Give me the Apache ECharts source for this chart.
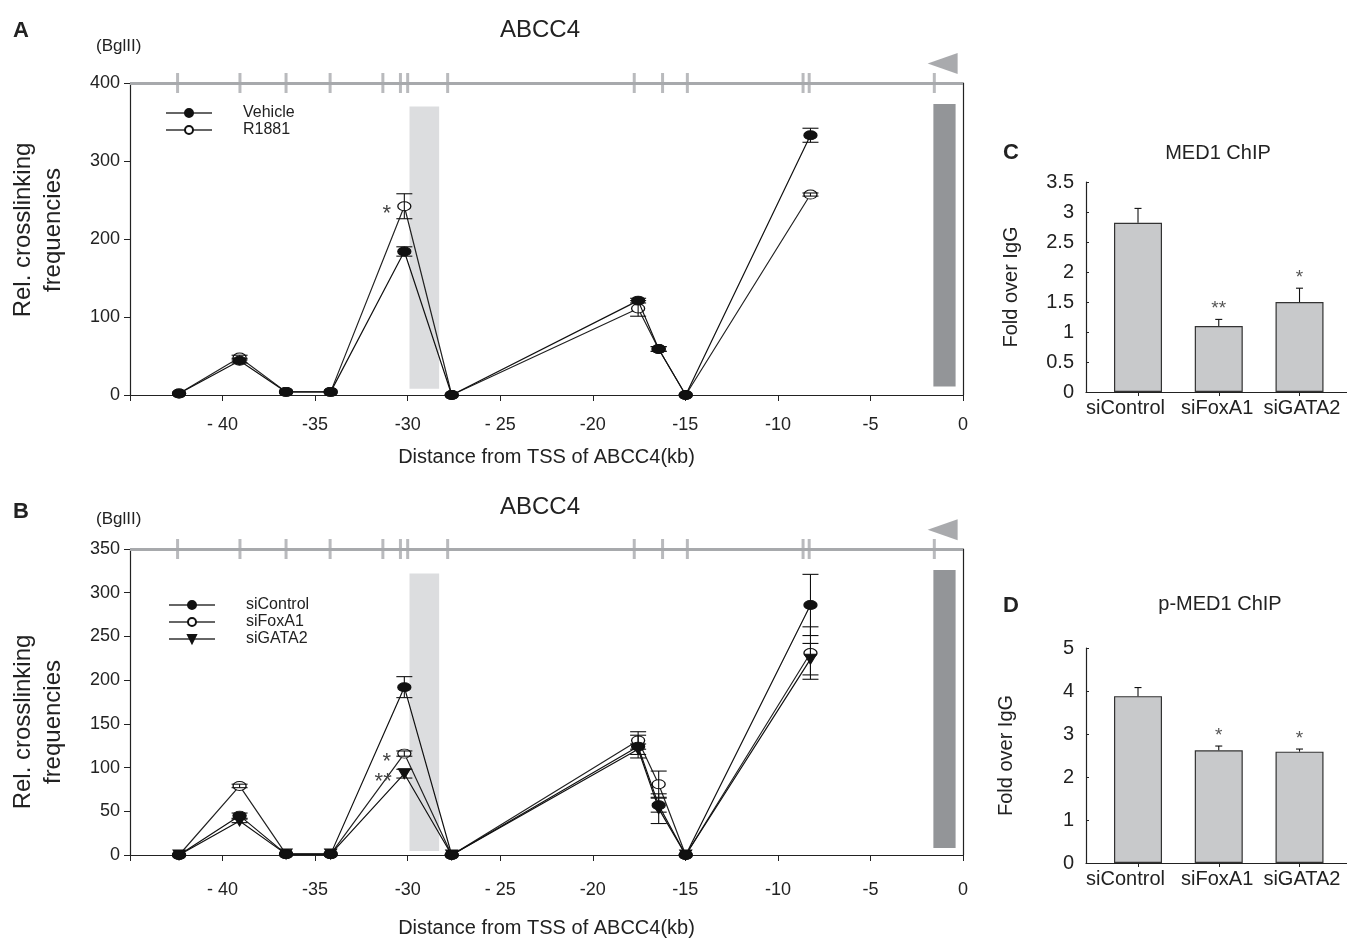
<!DOCTYPE html>
<html>
<head>
<meta charset="utf-8">
<script src="https://cdn.jsdelivr.net/npm/echarts@6/dist/echarts.min.js"></script>
<style>
  html, body { margin: 0; padding: 0; background: #fff; }
  #chart { width: 1347px; height: 939px; }
</style>
</head>
<body>
<div id="chart"></div>
<script>
// distance from TSS (kb) of the 3C fragments
var fragmentKb = [-42.35, -39.08, -36.57, -34.16, -30.18, -27.62, -17.55, -16.44, -14.98, -8.24];
// BglII sites on the map line
var bglSites = [-42.43, -39.06, -36.57, -34.19, -31.34, -30.39, -30.0, -27.84, -17.76, -16.23, -14.89, -8.64, -8.31, -1.55];
var xTicks = [-40, -35, -30, -25, -20, -15, -10, -5, 0];
var xTickLabels = ["- 40", "-35", "-30", "- 25", "-20", "-15", "-10", "-5", "0"];

// panel A
var vehicle = [2, 44, 4, 4, 184, 0, 121, 59, 0, 333];
var vehicleErr = [0, 3, 0, 0, 6, 0, 3, 3, 0, 9];
var r1881 = [2, 48, 4, 4, 242, 0, 111, 59, 0, 257];
var r1881Err = [0, 3, 0, 0, 16, 0, 10, 3, 0, 2];

// panel B
var siControl = [0, 45, 1, 1, 192, 0, 124, 57, 0, 286];
var siControlErr = [0, 3, 0, 0, 12, 0, 13, 8, 0, 35];
var siFoxA1 = [0, 79, 1, 1, 116, 0, 131, 81, 0, 231];
var siFoxA1Err = [0, 2, 0, 0, 3, 0, 10, 15, 0, 30];
var siGATA2 = [0, 39, 1, 1, 93, 0, 121, 53, 0, 224];
var siGATA2Err = [0, 2, 0, 0, 5, 0, 6, 17, 0, 18];

// panels C, D
var barCats = ["siControl", "siFoxA1", "siGATA2"];
var med1 = [2.82, 1.10, 1.50];
var med1Err = [0.24, 0.11, 0.23];
var med1Sig = ["", "**", "*"];
var pmed1 = [3.88, 2.62, 2.59];
var pmed1Err = [0.20, 0.10, 0.06];
var pmed1Sig = ["", "*", "*"];

var FONT = "Liberation Sans, Arial, sans-serif";
var TXT = "#222";

function pairs(xs, ys) {
  return xs.map(function (x, i) { return [x, ys[i]]; });
}
function errData(xs, ys, es) {
  var out = [];
  xs.forEach(function (x, i) {
    if (es[i] > 0) out.push([x, ys[i] - es[i], ys[i] + es[i]]);
  });
  return out;
}

// error bar drawing, capHalf in px
function errRender(capHalf) {
  return function (params, api) {
    var x = api.value(0);
    var lo = api.coord([x, api.value(1)]);
    var hi = api.coord([x, api.value(2)]);
    var st = { stroke: "#111", lineWidth: 1.1 };
    return {
      type: "group",
      children: [
        { type: "line", shape: { x1: hi[0], y1: lo[1], x2: hi[0], y2: hi[1] }, style: st },
        { type: "line", shape: { x1: hi[0] - capHalf, y1: hi[1], x2: hi[0] + capHalf, y2: hi[1] }, style: st },
        { type: "line", shape: { x1: lo[0] - capHalf, y1: lo[1], x2: lo[0] + capHalf, y2: lo[1] }, style: st }
      ]
    };
  };
}

function barErrRender(sigs) {
  return function (params, api) {
    var i = api.value(0);
    var top = api.coord([i, api.value(1)]);
    var hi = api.coord([i, api.value(2)]);
    var st = { stroke: "#111", lineWidth: 1.1 };
    var sig = sigs[params.dataIndex];
    var kids = [
      { type: "line", shape: { x1: top[0], y1: top[1], x2: hi[0], y2: hi[1] }, style: st },
      { type: "line", shape: { x1: hi[0] - 3.5, y1: hi[1], x2: hi[0] + 3.5, y2: hi[1] }, style: st }
    ];
    if (sig) {
      kids.push({
        type: "text",
        style: { text: sig, x: hi[0], y: hi[1] - 1, align: "center", verticalAlign: "bottom",
                 fontSize: 19, fontFamily: FONT, fill: "#555" }
      });
    }
    return { type: "group", children: kids };
  };
}

function lineSeries(name, xi, ys, opts) {
  var s = {
    name: name,
    type: "line",
    xAxisIndex: xi,
    yAxisIndex: xi,
    data: pairs(fragmentKb, ys),
    symbol: opts.symbol || "circle",
    symbolSize: opts.size || [13, 9],
    symbolRotate: opts.rotate || 0,
    showSymbol: true,
    lineStyle: { color: opts.line || "#111", width: 1.2 },
    itemStyle: { color: opts.fill, borderColor: "#111", borderWidth: 1.1 },
    z: opts.z || 3,
    animation: false
  };
  if (opts.sig) {
    s.data = s.data.map(function (d, i) {
      if (!opts.sig[i]) return d;
      return {
        value: d,
        label: { show: true, formatter: opts.sig[i], position: "left", distance: 6,
                 offset: [0, 8], fontSize: 22, fontFamily: FONT, color: "#444" }
      };
    });
  }
  return s;
}

function mapSeries(xi, top, band, dark) {
  return {
    type: "scatter",
    xAxisIndex: xi,
    yAxisIndex: xi,
    data: bglSites.map(function (s) { return [s, top]; }),
    symbol: "rect",
    symbolSize: [3, 20],
    itemStyle: { color: "#a7a9ac" },
    clip: false,
    silent: true,
    z: 10,
    animation: false,
    markLine: {
      silent: true,
      symbol: "none",
      label: { show: false },
      lineStyle: { color: "#a7a9ac", width: 3, type: "solid" },
      data: [{ yAxis: top }]
    },
    markArea: {
      silent: true,
      data: [
        [{ xAxis: band[0], yAxis: band[2], itemStyle: { color: "rgba(208,209,212,0.75)" } },
         { xAxis: band[1], yAxis: band[3] }],
        [{ xAxis: dark[0], yAxis: dark[2], itemStyle: { color: "#939598" } },
         { xAxis: dark[1], yAxis: dark[3] }]
      ]
    }
  };
}

function tssSeries(xi, yv) {
  return {
    type: "scatter",
    xAxisIndex: xi,
    yAxisIndex: xi,
    data: [[-1.1, yv]],
    symbol: "triangle",
    symbolSize: [21, 30],
    symbolRotate: 90,
    itemStyle: { color: "#939598" },
    clip: false,
    silent: true,
    z: 10,
    animation: false
  };
}

function kbAxis(gi, labelGap, nameGap) {
  return {
    type: "value",
    gridIndex: gi,
    min: -45,
    max: 0,
    interval: 5,
    axisLine: { onZero: false, lineStyle: { color: "#222", width: 1.2 } },
    axisTick: { length: 6, lineStyle: { color: "#222" } },
    splitLine: { show: false },
    axisLabel: {
      margin: labelGap,
      fontSize: 18,
      fontFamily: FONT,
      color: TXT,
      formatter: function (v) {
        var k = xTicks.indexOf(v);
        return k >= 0 ? xTickLabels[k] : "";
      }
    },
    name: "Distance from TSS of ABCC4(kb)",
    nameLocation: "middle",
    nameGap: nameGap,
    nameTextStyle: { fontSize: 20, fontFamily: FONT, color: TXT }
  };
}

function freqAxis(gi, max, step, pad) {
  return {
    type: "value",
    gridIndex: gi,
    min: 0,
    max: max,
    interval: step,
    axisLine: { show: true, onZero: false, lineStyle: { color: "#222", width: 1.2 } },
    axisTick: { show: true, length: 6, lineStyle: { color: "#222" } },
    splitLine: { show: false },
    axisLabel: { fontSize: 18, fontFamily: FONT, color: TXT, margin: 10 },
    name: "Rel. crosslinking\nfrequencies",
    nameLocation: "middle",
    nameGap: 62,
    nameRotate: 90,
    nameTextStyle: { fontSize: 24, lineHeight: 30, fontFamily: FONT, color: TXT, padding: pad }
  };
}

function borderAxis(gi, max) {
  return {
    type: "value",
    gridIndex: gi,
    position: "right",
    min: 0,
    max: max,
    axisLine: { show: true, onZero: false, lineStyle: { color: "#222", width: 1.2 } },
    axisTick: { show: false },
    axisLabel: { show: false },
    splitLine: { show: false }
  };
}

// bar panels: value axis so that bars, ticks and labels sit where the figure has them
var barTickPos = [0, 1, 2];
var barLabelPos = [-0.155, 0.98, 2.03];
function catAxis(gi) {
  return {
    type: "value",
    gridIndex: gi,
    min: -0.644,
    max: 2.588,
    axisLine: { onZero: false, lineStyle: { color: "#222", width: 1.2 } },
    axisTick: { show: true, customValues: barTickPos, length: 4, lineStyle: { color: "#222" } },
    splitLine: { show: false },
    axisLabel: {
      customValues: barLabelPos,
      fontSize: 20, fontFamily: FONT, color: TXT, margin: 6,
      formatter: function (v) { return barCats[Math.round(v)] || ""; }
    }
  };
}

function foldAxis(gi, max, step, gap) {
  return {
    type: "value",
    gridIndex: gi,
    min: 0,
    max: max,
    interval: step,
    axisLine: { show: true, onZero: false, lineStyle: { color: "#222", width: 1.2 } },
    axisTick: { show: true, inside: true, length: 3, lineStyle: { color: "#222" } },
    splitLine: { show: false },
    axisLabel: { fontSize: 20, fontFamily: FONT, color: TXT, margin: 12 },
    name: "Fold over IgG",
    nameLocation: "middle",
    nameGap: gap,
    nameRotate: 90,
    nameTextStyle: { fontSize: 20, fontFamily: FONT, color: TXT }
  };
}

function barSeries(gi, vals) {
  return {
    type: "bar",
    xAxisIndex: gi,
    yAxisIndex: gi,
    data: vals.map(function (v, i) { return [i, v]; }),
    barWidth: 48,
    itemStyle: { color: "#c8c9cb", borderColor: "#333", borderWidth: 1.2 },
    animation: false
  };
}

function barErrSeries(gi, vals, errs, sig) {
  return {
    type: "custom",
    xAxisIndex: gi,
    yAxisIndex: gi,
    renderItem: barErrRender(sig),
    data: vals.map(function (v, i) { return [i, v, v + errs[i]]; }),
    clip: false,
    z: 5,
    animation: false
  };
}

function lineErrSeries(xi, ys, es) {
  return {
    type: "custom",
    xAxisIndex: xi,
    yAxisIndex: xi,
    renderItem: errRender(8),
    data: errData(fragmentKb, ys, es),
    z: 4,
    animation: false
  };
}

function txt(text, left, top, size, bold, align) {
  return {
    text: text,
    left: left,
    top: top,
    textAlign: align || "left",
    textStyle: { fontSize: size, fontWeight: bold ? "bold" : "normal", fontFamily: FONT, color: TXT }
  };
}

function legendOf(names, left, top) {
  return {
    data: names,
    orient: "vertical",
    left: left,
    top: top,
    itemWidth: 46,
    itemHeight: 10,
    itemGap: 1,
    lineStyle: { color: "#666" },
    textStyle: { fontSize: 16, lineHeight: 16, fontFamily: FONT, color: TXT, padding: [0, 0, 0, 26] }
  };
}

var option = {
  backgroundColor: "#fff",
  animation: false,
  title: [
    txt("A", 8, 15, 22, true),
    txt("ABCC4", 535, 13, 24, false, "center"),
    txt("(BglII)", 91, 33, 17),
    txt("B", 8, 496, 22, true),
    txt("ABCC4", 535, 490, 24, false, "center"),
    txt("(BglII)", 91, 506, 17),
    txt("C", 998, 137, 22, true),
    txt("MED1 ChIP", 1213, 138, 20, false, "center"),
    txt("D", 998, 590, 22, true),
    txt("p-MED1 ChIP", 1215, 589, 20, false, "center")
  ],
  legend: [
    legendOf(["Vehicle", "R1881"], 160, 100),
    legendOf(["siControl", "siFoxA1", "siGATA2"], 163, 592)
  ],
  grid: [
    { left: 127, top: 83, width: 836, height: 312 },
    { left: 127, top: 549, width: 836, height: 311 },
    { left: 1086, top: 182, width: 261, height: 210 },
    { left: 1086, top: 648, width: 261, height: 215 }
  ],
  xAxis: [kbAxis(0, 21, 52), kbAxis(1, 26, 63), catAxis(2), catAxis(3)],
  yAxis: [
    freqAxis(0, 400, 100, [0, 0, 0, 18]),
    freqAxis(1, 350, 50, [0, 40, 0, 0]),
    foldAxis(2, 3.5, 0.5, 65),
    foldAxis(3, 5, 1, 70),
    borderAxis(0, 400),
    borderAxis(1, 350)
  ],
  series: [
    // panel A
    lineSeries("Vehicle", 0, vehicle, { fill: "#111", z: 4 }),
    lineSeries("R1881", 0, r1881, { fill: "#fff", line: "#222", sig: ["", "", "", "", "*", "", "", "", "", ""] }),
    lineErrSeries(0, vehicle, vehicleErr),
    lineErrSeries(0, r1881, r1881Err),
    mapSeries(0, 400, [-29.9, -28.3, 8, 370], [-1.6, -0.4, 11, 373]),
    tssSeries(0, 425),
    // panel B
    lineSeries("siControl", 1, siControl, { fill: "#111", z: 4 }),
    lineSeries("siFoxA1", 1, siFoxA1, { fill: "#fff", line: "#222", sig: ["", "", "", "", "*", "", "", "", "", ""] }),
    lineSeries("siGATA2", 1, siGATA2, { fill: "#111", symbol: "triangle", rotate: 180, size: [12, 10],
      sig: ["", "", "", "", "**", "", "", "", "", ""] }),
    lineErrSeries(1, siControl, siControlErr),
    lineErrSeries(1, siFoxA1, siFoxA1Err),
    lineErrSeries(1, siGATA2, siGATA2Err),
    mapSeries(1, 350, [-29.9, -28.3, 4.5, 322], [-1.6, -0.4, 8, 326]),
    tssSeries(1, 372),
    // panel C
    barSeries(2, med1),
    barErrSeries(2, med1, med1Err, med1Sig),
    // panel D
    barSeries(3, pmed1),
    barErrSeries(3, pmed1, pmed1Err, pmed1Sig)
  ]
};

var myChart = echarts.init(document.getElementById("chart"), null, { renderer: "canvas" });
myChart.setOption(option);
</script>
</body>
</html>
